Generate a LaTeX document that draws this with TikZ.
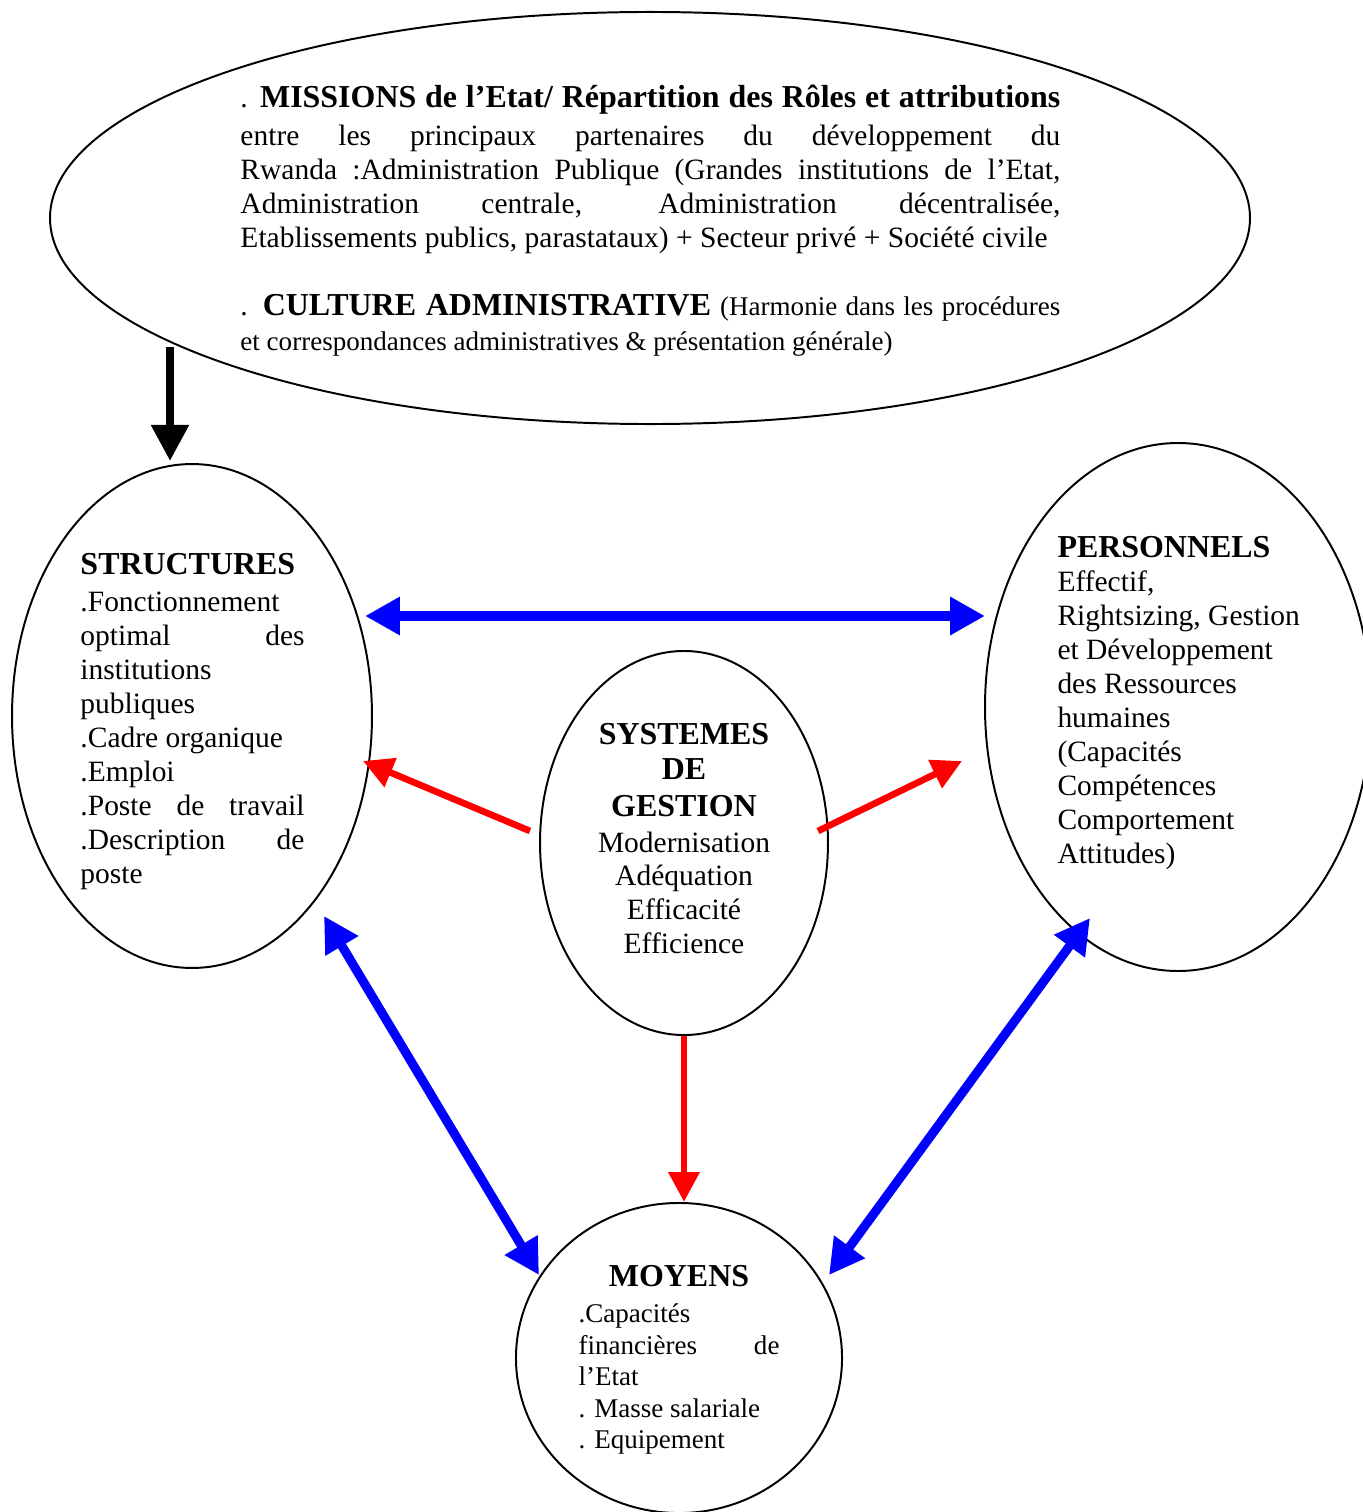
\documentclass[tikz,border=0pt]{standalone}
\usepackage{fontspec}
\setmainfont{Liberation Serif}
\usetikzlibrary{shapes.geometric,arrows.meta}
\newcommand\hd[1]{{\fontsize{13}{13.84}\selectfont\bfseries #1}}
\newcommand\smf{\fontsize{11}{13.84}\selectfont}
\newcommand\jl[1]{\makebox[\linewidth][s]{#1}}
\newcommand\nsp{\spaceskip=0pt\xspaceskip=0pt\relax}
\tikzset{
  ell/.style={draw, ellipse, line width=0.8pt, inner sep=0pt},
  txt/.style={inner sep=0pt, anchor=base west, align=left,
    font=\fontsize{12}{13.84}\selectfont},
  blkarrow/.style={-{Triangle[length=14.7pt,width=14.7pt]}, line width=3.3pt, black},
  bluarrow/.style={{Triangle[length=14.2pt,width=14.7pt]}-{Triangle[length=14.2pt,width=14.7pt]}, blue, line width=3.7pt},
  redarrow/.style={-{Triangle[length=12.2pt,width=12.2pt]}, red, line width=2.7pt}
}
\begin{document}
\begin{tikzpicture}[x=0.407pt, y=-0.407pt]
\useasboundingbox (0,0) rectangle (1362,1512);

% ellipses
\node[ell, minimum width=488.4pt, minimum height=167.7pt] (top) at (650,218) {};
\node[ell, minimum width=146.5pt, minimum height=205.1pt] (struct) at (192,716) {};
\node[ell, minimum width=117.2pt, minimum height=156.3pt] (sys) at (684,843) {};
\node[ell, minimum width=157.1pt, minimum height=214.9pt] (pers) at (1178,707) {};
\node[ell, minimum width=132.7pt, minimum height=126.2pt] (moy) at (679,1358) {};

% texts
\node[txt, text width=333.7pt] (ttop) at (240,107) {\nsp
\jl{. \hd{MISSIONS de l’Etat/ Répartition des Rôles et attributions}}\\[2pt]
\jl{entre les principaux partenaires du développement du}\\
\jl{Rwanda :Administration Publique (Grandes institutions de l’Etat,}\\
\jl{Administration centrale, Administration décentralisée,}\\
Etablissements publics, parastataux) + Secteur privé + Société civile\\[13.5pt]
\jl{. \hd{CULTURE ADMINISTRATIVE} {\smf(Harmonie dans les procédures}}\\[0.5pt]
{\smf et correspondances administratives \& présentation générale)}};

\node[txt, text width=91.2pt] (tstruct) at (80,574) {\nsp
\hd{STRUCTURES}\\[1.6pt]
.Fonctionnement\\
\jl{optimal des}\\
institutions\\
publiques\\
.Cadre organique\\
.Emploi\\
\jl{.Poste de travail}\\
\jl{.Description de}\\
poste};

\node[txt, text width=108pt] (tpers) at (1057,557) {\nsp
\hd{PERSONNELS}\\
Effectif,\\
Rightsizing, Gestion\\
et Développement\\
des Ressources\\
humaines\\
(Capacités\\
Compétences\\
Comportement\\
Attitudes)};

\node[txt, anchor=base, align=center, text width=81.4pt] (tsys) at (684,744) {\nsp
\hd{SYSTEMES}\\[0.8pt]
\hd{DE}\\[1.2pt]
\hd{GESTION}\\[0.8pt]
Modernisation\\[-0.4pt]
Adéquation\\
Efficacité\\
Efficience};

\node[txt, text width=81.8pt, font=\fontsize{11}{12.8}\selectfont] (tmoy) at (578,1286) {\nsp
\makebox[\linewidth]{\hd{MOYENS}}\\[2.2pt]
.Capacités\\
\jl{financières de}\\
l’Etat\\
. Masse salariale\\
. Equipement};

% arrow end points
\coordinate (a1) at (170,347);
\coordinate (a2) at (170,461);
\coordinate (b1) at (365,616);
\coordinate (b2) at (985,616);
\coordinate (r1s) at (530,831);
\coordinate (r1e) at (363,761);
\coordinate (r2s) at (818,831);
\coordinate (r2e) at (962,761);
\coordinate (r3s) at (684,1036);
\coordinate (r3e) at (684,1202);
\coordinate (c1) at (324,916);
\coordinate (c2) at (539,1275);
\coordinate (d1) at (1090,918);
\coordinate (d2) at (829,1275);

% arrows
\draw[blkarrow] (a1) -- (a2);
\draw[bluarrow] (b1) -- (b2);
\draw[redarrow] (r1s) -- (r1e);
\draw[redarrow] (r2s) -- (r2e);
\draw[redarrow] (r3s) -- (r3e);
\draw[bluarrow] (c1) -- (c2);
\draw[bluarrow] (d1) -- (d2);
\end{tikzpicture}
\end{document}
